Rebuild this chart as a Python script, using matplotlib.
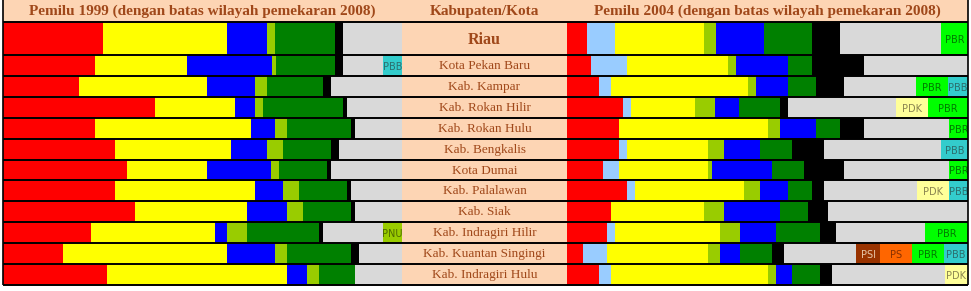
import numpy as np
import matplotlib.pyplot as plt
from matplotlib.patches import Rectangle

wilayah = ["Riau", "Kota Pekan Baru", "Kab. Kampar", "Kab. Rokan Hilir",
           "Kab. Rokan Hulu", "Kab. Bengkalis", "Kota Dumai", "Kab. Palalawan",
           "Kab. Siak", "Kab. Indragiri Hilir", "Kab. Kuantan Singingi",
           "Kab. Indragiri Hulu"]

# Pemilu 1999, persen suara (perkiraan dari gambar)
pdip_99 = [25.1, 23.1, 19.0, 38.1, 23.1, 28.1, 31.1, 28.1, 33.1, 22.1, 15.0, 26.1]
golkar_99 = [31.1, 23.1, 32.1, 20.1, 39.1, 29.1, 20.1, 35.1, 28.1, 31.1, 41.1, 45.1]
pan_99 = [10.0, 21.1, 12.0, 5.0, 6.0, 9.0, 16.0, 7.0, 10.0, 3.0, 12.0, 5.0]
pkb_99 = [2.0, 1.0, 3.0, 2.0, 3.0, 4.0, 2.0, 4.0, 4.0, 5.0, 3.0, 3.0]
ppp_99 = [15.0, 15.0, 14.0, 20.1, 16.0, 12.0, 12.0, 12.0, 12.0, 18.0, 16.0, 9.0]
pk_99 = [2.0, 2.0, 2.0, 1.0, 1.0, 2.0, 1.0, 1.0, 1.0, 1.0, 2.0, 0.0]
lain_99 = [14.8, 10.0, 17.8, 13.8, 11.8, 15.8, 17.8, 12.8, 11.8, 15.0, 10.8, 11.8]
pbb_99 = [0, 4.8, 0, 0, 0, 0, 0, 0, 0, 0, 0, 0]
pnu_99 = [0, 0, 0, 0, 0, 0, 0, 0, 0, 4.8, 0, 0]

# Pemilu 2004
pdip_04 = [5.0, 6.0, 8.0, 14.0, 13.0, 13.0, 9.0, 15.0, 11.0, 10.0, 4.0, 8.0]
demokrat_04 = [7.0, 9.0, 3.0, 2.0, 0.0, 2.0, 4.0, 2.0, 0.0, 2.0, 6.0, 3.0]
golkar_04 = [22.1, 25.1, 34.1, 16.0, 37.1, 20.1, 22.1, 27.1, 23.1, 26.1, 25.1, 39.1]
pkb_04 = [3.0, 2.0, 2.0, 5.0, 3.0, 4.0, 1.0, 4.0, 5.0, 5.0, 3.0, 2.0]
pan_04 = [12.0, 13.0, 8.0, 6.0, 9.0, 9.0, 15.0, 7.0, 14.0, 9.0, 5.0, 4.0]
ppp_04 = [12.0, 6.0, 7.0, 10.0, 6.0, 8.0, 8.0, 6.0, 7.0, 11.0, 8.0, 7.0]
pks_04 = [7.0, 13.0, 7.0, 2.0, 6.0, 8.0, 10.0, 3.0, 5.0, 4.0, 3.0, 3.0]
lain_04 = [25.1, 25.8, 18.0, 27.1, 21.1, 29.1, 26.1, 23.1, 34.8, 22.1, 18.0, 28.1]
psi_04 = [0, 0, 0, 0, 0, 0, 0, 0, 0, 0, 6.0, 0]
ps_04 = [0, 0, 0, 0, 0, 0, 0, 0, 0, 0, 8.0, 0]
pdk_04 = [0, 0, 0, 8.0, 0, 0, 0, 8.0, 0, 0, 0, 5.8]
pbr_04 = [6.8, 0, 8.0, 9.8, 4.8, 0, 4.8, 0, 0, 10.8, 8.0, 0]
pbb_04 = [0, 0, 4.8, 0, 0, 6.8, 0, 4.8, 0, 0, 5.8, 0]

seri_99 = [
    (pdip_99, "#FF0000", None, None),
    (golkar_99, "#FFFF00", None, None),
    (pan_99, "#0000FF", None, None),
    (pkb_99, "#99CC00", None, None),
    (ppp_99, "#008000", None, None),
    (pk_99, "#000000", None, None),
    (lain_99, "#D9D9D9", None, None),
    (pbb_99, "#33CCCC", "PBB", "#2C6E6E"),
    (pnu_99, "#99CC00", "PNU", "#4F6A00"),
]
seri_04 = [
    (pdip_04, "#FF0000", None, None),
    (demokrat_04, "#99CCFF", None, None),
    (golkar_04, "#FFFF00", None, None),
    (pkb_04, "#99CC00", None, None),
    (pan_04, "#0000FF", None, None),
    (ppp_04, "#008000", None, None),
    (pks_04, "#000000", None, None),
    (lain_04, "#D9D9D9", None, None),
    (psi_04, "#993300", "PSI", "#E6C6A8"),
    (ps_04, "#FF6600", "PS", "#8A3000"),
    (pdk_04, "#FFFF99", "PDK", "#8A8450"),
    (pbr_04, "#00FF00", "PBR", "#007A00"),
    (pbb_04, "#33CCCC", "PBB", "#2C6E6E"),
]

W, H = 971, 291
peach = "#FDD5B4"
brown = "#A0481A"
x_left, x_mid, x_right, x_end = 3, 402, 567, 968
y_head, y_bot = 22, 285

row_h = np.array([33.0] + [(y_bot - 55) / 11] * 11)
edges = y_head + np.concatenate([[0], np.cumsum(row_h)])
centers = (edges[:-1] + edges[1:]) / 2

fig = plt.figure(figsize=(W / 100, H / 100), dpi=100)
fig.patch.set_facecolor("white")


def px_axes(x0, y0, x1, y1):
    return fig.add_axes([x0 / W, 1 - y1 / H, (x1 - x0) / W, (y1 - y0) / H])


bg = px_axes(0, 0, W, H)
bg.set_xlim(0, W)
bg.set_ylim(H, 0)
bg.axis("off")
bg.add_patch(Rectangle((x_left, 0), x_end - x_left, y_head, color=peach, lw=0))
bg.add_patch(Rectangle((x_mid, y_head), x_right - x_mid, y_bot - y_head, color=peach, lw=0))

serif = "Liberation Serif"
bg.text((x_left + x_mid) / 2, 11, "Pemilu 1999 (dengan batas wilayah pemekaran 2008)",
        ha="center", va="center", fontsize=11, fontweight="bold", family=serif, color=brown)
bg.text((x_mid + x_right) / 2, 11, "Kabupaten/Kota",
        ha="center", va="center", fontsize=11, fontweight="bold", family=serif, color=brown)
bg.text((x_right + x_end) / 2, 11, "Pemilu 2004 (dengan batas wilayah pemekaran 2008)",
        ha="center", va="center", fontsize=11, fontweight="bold", family=serif, color=brown)

for i, nama in enumerate(wilayah):
    if i == 0:
        bg.text((x_mid + x_right) / 2, centers[i] + 1, nama, ha="center", va="center",
                fontsize=11.5, fontweight="bold", family=serif, color=brown)
    else:
        bg.text((x_mid + x_right) / 2, centers[i] + 0.5, nama, ha="center", va="center",
                fontsize=9.5, family=serif, color=brown)


def draw_panel(ax, seri):
    left = np.zeros(len(wilayah))
    for vals, color, label, tcol in seri:
        vals = np.array(vals, dtype=float)
        ax.barh(centers, vals, left=left, height=row_h, color=color, linewidth=0)
        if label:
            for i, v in enumerate(vals):
                if v > 0:
                    ax.text(left[i] + v / 2, centers[i] + 1.5, label, ha="center",
                            va="center", fontsize=7, color=tcol, clip_on=True)
        left += vals
    ax.set_xlim(0, 100)
    ax.set_ylim(y_bot, y_head)
    ax.axis("off")


ax1 = px_axes(x_left, y_head, x_mid, y_bot)
draw_panel(ax1, seri_99)
ax2 = px_axes(x_right, y_head, x_end, y_bot)
draw_panel(ax2, seri_04)

# garis tabel
top = px_axes(0, 0, W, H)
top.set_xlim(0, W)
top.set_ylim(H, 0)
top.axis("off")
top.patch.set_alpha(0)
top.hlines(edges, x_left, x_end, color="black", lw=1.4)
top.vlines([x_left, x_end], 0, y_bot, color="black", lw=1.2)

fig.savefig("out.png", dpi=100)
